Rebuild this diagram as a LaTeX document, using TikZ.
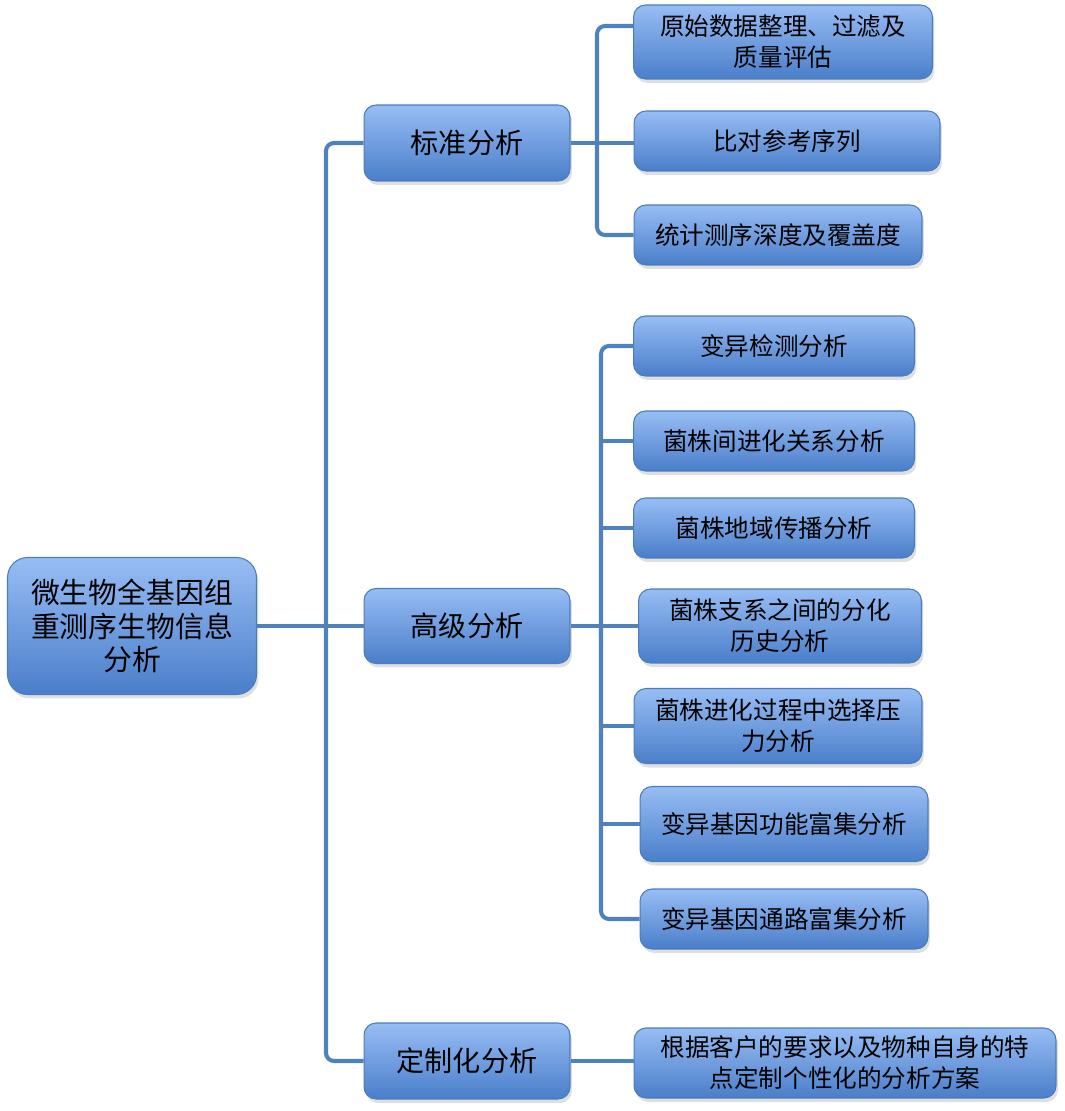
\documentclass[tikz,border=0pt]{standalone}
\usepackage{fontspec}
\newfontfamily\cjk{Noto Sans CJK SC}
\usetikzlibrary{calc, shadows}

\definecolor{boxtop}{HTML}{97BDF4}
\definecolor{boxbot}{HTML}{4A7ECA}
\definecolor{boxline}{HTML}{4A7DBB}
\definecolor{linkblue}{HTML}{4F81BD}

\begin{document}
\begin{tikzpicture}[x=0.02cm, y=-0.02cm,
    box/.style={draw=boxline, line width=0.6pt, rounded corners=0.24cm,
        top color=boxtop, bottom color=boxbot, align=center, inner sep=0pt,
        drop shadow={opacity=0.25, shadow xshift=0.04cm, shadow yshift=-0.08cm},
        font=\cjk\fontsize{14}{17.6}\selectfont},
    topbox/.style={box, rounded corners=0.4cm, font=\cjk\fontsize{16.4}{19.3}\selectfont},
    midbox/.style={box, font=\cjk\fontsize{16}{19}\selectfont},
    link/.style={draw=linkblue, line width=2.3pt, rounded corners=0.16cm}]
    \useasboundingbox (0,0) rectangle (1064,1111);

    % root and first level
    \node[topbox, minimum width=4.98cm, minimum height=2.74cm] (root) at (132,626)
        {微生物全基因组\\重测序生物信息\\分析};
    \node[midbox, minimum width=4.12cm, minimum height=1.52cm] (std) at (467,143) {标准分析};
    \node[midbox, minimum width=4.12cm, minimum height=1.50cm] (adv) at (467,626) {高级分析};
    \node[midbox, minimum width=4.12cm, minimum height=1.52cm] (cust) at (467,1061) {定制化分析};

    % standard analysis
    \node[box, minimum width=5.98cm, minimum height=1.48cm] (s1) at (783,42) {原始数据整理、过滤及\\质量评估};
    \node[box, minimum width=6.12cm, minimum height=1.20cm] (s2) at (787,141) {比对参考序列};
    \node[box, minimum width=5.76cm, minimum height=1.20cm] (s3) at (778,235) {统计测序深度及覆盖度};

    % advanced analysis
    \node[box, minimum width=5.62cm, minimum height=1.20cm] (a1) at (774,346) {变异检测分析};
    \node[box, minimum width=5.62cm, minimum height=1.20cm] (a2) at (774,441) {菌株间进化关系分析};
    \node[box, minimum width=5.62cm, minimum height=1.20cm] (a3) at (774,528) {菌株地域传播分析};
    \node[box, minimum width=5.66cm, minimum height=1.48cm] (a4) at (780,626) {菌株支系之间的分化\\历史分析};
    \node[box, minimum width=5.76cm, minimum height=1.50cm] (a5) at (778,726) {菌株进化过程中选择压\\力分析};
    \node[box, minimum width=5.76cm, minimum height=1.50cm] (a6) at (784,824) {变异基因功能富集分析};
    \node[box, minimum width=5.76cm, minimum height=1.20cm] (a7) at (784,919) {变异基因通路富集分析};

    % customised analysis
    \node[box, minimum width=8.44cm, minimum height=1.40cm] (c1) at (845,1063) {根据客户的要求以及物种自身的特\\点定制个性化的分析方案};

    \coordinate (rs) at (326,626);
    \coordinate (ss) at (597,143);
    \coordinate (as) at (601,626);

    \draw[link] (std.west) -| (rs) |- (cust.west);
    \draw[link] (root.east) -- (adv.west);

    \draw[link] ([yshift=0.32cm]s1.west) -| (ss) |- (s3.west);
    \draw[link] (std.east) -- (std.east -| s2.west);

    \draw[link] (a1.west) -| (as) |- (a7.west);
    \foreach \n in {2,3,5,6}
        \draw[link] (a\n.west) -- (a\n.west -| as);
    \draw[link] (adv.east) -- (a4.west);

    \draw[link] (cust.east) -- (cust.east -| c1.west);
\end{tikzpicture}
\end{document}
